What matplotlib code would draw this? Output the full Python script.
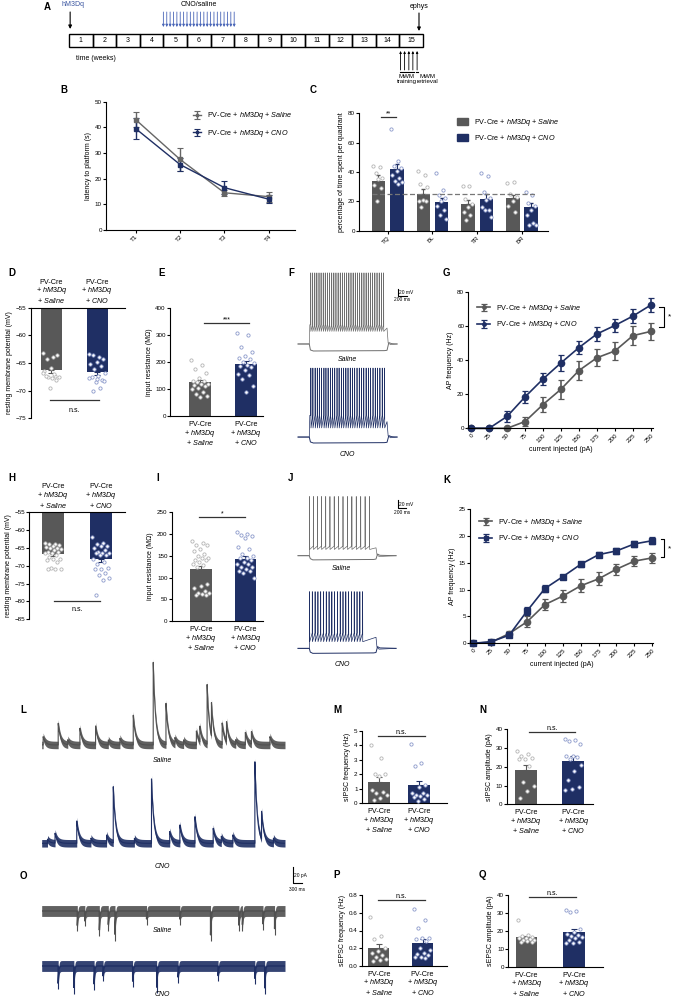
import numpy as np
import matplotlib
matplotlib.use("Agg")
import matplotlib.pyplot as plt
from matplotlib.patches import Rectangle, Patch

plt.rcParams['font.family'] = ['Liberation Sans', 'DejaVu Sans']
plt.rcParams['mathtext.fontset'] = 'custom'
plt.rcParams['mathtext.rm'] = 'Liberation Sans'
plt.rcParams['mathtext.it'] = 'Liberation Sans:italic'
plt.rcParams['font.size'] = 5
plt.rcParams['axes.linewidth'] = 0.8
plt.rcParams['path.simplify'] = False

GREY = '#585858'
NAVY = '#1f2f64'
GREY_PT = '#b4b4b4'
NAVY_PT = '#8c9acb'
W, H = 674, 1000

SAL_LABEL = r'PV-Cre + $\mathit{hM3Dq}$ + $\mathit{Saline}$'
CNO_LABEL = r'PV-Cre + $\mathit{hM3Dq}$ + $\mathit{CNO}$'

# ---- A: timeline
weeks = list(range(1, 16))
cno_days = [28, 29, 30, 31, 32, 33, 34, 35, 36, 37, 38, 39, 40, 41, 42, 43, 44, 45, 46, 47, 48, 49]
mwm_training = [14.05, 14.22, 14.4, 14.57]
mwm_retrieval = [14.75]
ephys_week = 14.83

# ---- B: water maze latency
trials = ['T1', 'T2', 'T3', 'T4']
b_sal = [43, 27.5, 14.5, 13]
b_sal_err = [3, 4.5, 1.2, 2]
b_cno = [39.5, 25.5, 16.5, 12]
b_cno_err = [4, 2.5, 2.5, 1.5]

# ---- C: probe trial
quadrants = ['TQ', 'BL', 'TR', 'BR']
c_sal_mean = [34, 25, 18, 22]
c_sal_err = [4, 3.5, 3.2, 2.5]
c_cno_mean = [42, 19.5, 21.5, 16]
c_cno_err = [3.5, 3, 3.5, 3]
c_sal_pts = [[44, 43.5, 39.5, 36, 35.5, 31, 29, 20],
             [40.5, 38, 31.5, 29.5, 21, 20.5, 20, 16],
             [30.5, 30.5, 21.5, 18, 16, 13, 11, 7],
             [32.5, 33.5, 25, 23, 20, 17, 13]]
c_cno_pts = [[69.5, 47.5, 44, 42.5, 41, 38, 36, 34, 33, 32],
             [39.5, 27.5, 24, 22, 20, 17, 14, 11, 8],
             [39.5, 37.5, 26.5, 22, 21, 16, 14, 14, 9],
             [26.5, 24.5, 19, 17, 14, 11, 5, 4, 4]]

# ---- D/E (first cohort) and H/I (second cohort)
d_sal = [-63.2, -64.0, -64.3, -63.5, -65.9, -66.4, -67.3, -67.6, -67.5, -67.8, -67.4, -68.1, -69.5, -66.8, -67.0]
d_cno = [-63.3, -64.0, -63.5, -64.3, -64.8, -65.2, -65.5, -66.1, -66.8, -67.3, -67.6, -68.0, -68.5, -67.8,
         -69.5, -70.0, -68.2, -67.9]
d_mean = [-66.3, -66.6]
d_sem = [0.55, 0.5]
e_sal = [205, 190, 175, 160, 140, 130, 128, 125, 120, 118, 115, 110, 105, 100, 90, 80, 75, 70]
e_cno = [308, 300, 255, 235, 220, 215, 210, 200, 195, 190, 185, 180, 170, 155, 150, 135, 110, 90]
e_mean = [125, 192]
e_sem = [8, 12]
h_sal = [-63.5, -63.8, -64.0, -64.3, -64.5, -64.8, -65.0, -65.0, -65.3, -65.5, -66.0, -66.0, -66.3, -66.5,
         -67.0, -67.5, -68.0, -68.0, -68.3, -69.0, -70.5, -70.8, -71.0, -71.0]
h_cno = [-62.0, -63.5, -64.0, -64.5, -64.5, -65.0, -65.5, -66.0, -66.3, -66.5, -66.5, -67.0, -67.0, -68.0,
         -69.0, -69.5, -70.5, -70.8, -71.0, -72.0, -72.5, -73.5, -74.0, -78.3]
h_mean = [-66.8, -68.2]
h_sem = [0.5, 0.8]
i_sal = [185, 180, 175, 175, 165, 160, 155, 150, 145, 145, 140, 140, 135, 130, 128, 125, 85, 80, 75, 70,
         65, 65, 62, 60, 60]
i_cno = [205, 200, 198, 195, 190, 170, 165, 155, 150, 145, 145, 140, 135, 130, 130, 125, 125, 120, 115,
         115, 110, 100]
i_mean = [119, 142]
i_sem = [8, 7]

# ---- G/K: input-output curves
current = [0, 25, 50, 75, 100, 125, 150, 175, 200, 225, 250]
g_sal = [0, 0, 0, 4, 14, 23, 34, 41.5, 45.5, 54.5, 57]
g_sal_err = [0, 0, 0, 2.5, 4.5, 5.5, 5.5, 5, 5.5, 5.5, 5]
g_cno = [0, 0, 7, 18.5, 29, 38.5, 47.5, 55.5, 60.5, 66, 72.5]
g_cno_err = [0, 0, 3, 3.5, 3.5, 4.5, 4, 4, 4, 4, 4]
k_sal = [0, 0.2, 1.8, 4, 7.2, 8.8, 10.7, 12, 13.8, 15.3, 15.9]
k_sal_err = [0, 0.1, 0.5, 1, 1, 1.2, 1.2, 1.2, 1, 1, 1]
k_cno = [0, 0.3, 1.5, 6, 10.2, 12.4, 14.7, 16.5, 17.2, 18.5, 19.1]
k_cno_err = [0, 0.1, 0.3, 0.8, 0.6, 0.4, 0.5, 0.5, 0.6, 0.6, 0.7]

# ---- F/J: spike times (ms) during the current step
f_sal_spikes = [282, 325, 372, 418, 466, 512, 560, 605, 652, 700, 748, 795, 842, 890, 938, 985, 1033, 1080,
                1128, 1176, 1224, 1272, 1320, 1368, 1416, 1464, 1512, 1560, 1608, 1656, 1705, 1754, 1803,
                1852, 1900]
f_cno_spikes = [285, 330, 380, 428, 474, 522, 575, 620, 668, 720, 768, 815, 866, 912, 962, 1010, 1062, 1110,
                1160, 1210, 1258, 1310, 1360, 1410, 1460, 1512, 1562, 1612, 1665, 1715, 1765, 1818, 1870, 1922]
j_sal_spikes = [300, 400, 505, 612, 720, 830, 942, 1055, 1170, 1285, 1400, 1515, 1630, 1745, 1860]
j_cno_spikes = [300, 372, 445, 518, 590, 662, 735, 808, 880, 952, 1025, 1098, 1170, 1243, 1316, 1390, 1462,
                1535, 1608, 1680]

# ---- L/O: synaptic events (time s, amplitude pA)
l_sal_events = [(0.05, 10), (0.57, 26), (0.9, 6), (1.32, 20), (1.86, 23), (2.3, 6), (2.7, 8), (3.16, 36),
                (3.85, 100), (4.29, 50), (4.6, 8), (4.9, 6), (5.34, 17), (5.46, 19), (5.71, 72), (5.86, 40),
                (6.23, 26), (6.38, 24), (6.7, 6), (7.03, 15), (7.24, 15), (7.88, 10)]
l_cno_events = [(0.2, 5), (0.46, 12), (1.21, 27), (1.7, 6), (2.24, 10), (2.47, 68), (3.2, 6), (3.79, 78),
                (4.42, 14), (4.77, 22), (5.29, 32), (5.92, 18), (6.2, 8), (6.6, 10), (7.36, 98), (7.59, 33),
                (8.0, 6)]
o_sal_events = [(1.23, 18), (1.49, 12), (1.99, 24), (2.30, 17), (2.53, 29), (3.62, 10), (4.77, 10),
                (5.83, 29), (6.81, 17), (6.93, 17), (7.64, 16), (8.04, 22)]
o_cno_events = [(0.57, 21), (1.11, 27), (1.81, 22), (2.12, 12), (3.14, 19), (3.97, 26), (4.71, 14),
                (6.09, 12), (7.36, 15), (7.7, 27)]

# ---- M/N/P/Q
m_sal = [4.0, 3.15, 2.05, 2.0, 1.9, 0.9, 0.75, 0.7, 0.55, 0.35, 0.2]
m_cno = [4.1, 2.8, 2.55, 1.3, 1.1, 0.7, 0.7, 0.6, 0.6, 0.5, 0.45, 0.3, 0.15]
m_mean = [1.45, 1.25]
m_sem = [0.38, 0.3]
n_sal = [28.5, 27, 26, 24.5, 24, 24, 20.5, 12, 9.5, 7, 3.5]
n_cno = [35, 34.5, 34, 32, 26, 25.5, 25, 24, 21, 17.5, 13, 9, 8, 7.5]
n_mean = [18.3, 23]
n_sem = [2.8, 2.8]
p_sal = [0.55, 0.34, 0.3, 0.2, 0.17, 0.15, 0.12, 0.1, 0.08, 0.06, 0.05]
p_cno = [0.64, 0.52, 0.43, 0.32, 0.31, 0.3, 0.28, 0.2, 0.18, 0.15, 0.13, 0.12, 0.1, 0.1, 0.09]
p_mean = [0.2, 0.26]
p_sem = [0.045, 0.045]
q_sal = [26, 17.5, 17, 16.5, 16, 16, 15.5, 15, 15, 14.5, 14, 14]
q_cno = [31.5, 31, 30.5, 21, 19.5, 18, 17.5, 17, 16.5, 16, 15, 14, 13, 13]
q_mean = [16.3, 19.5]
q_sem = [0.8, 1.7]

fig = plt.figure(figsize=(W / 100, H / 100), dpi=100)


def px_ax(left, top, right, bottom):
    return fig.add_axes([left / W, 1 - bottom / H, (right - left) / W, (bottom - top) / H])


def letter(x, y, s):
    fig.text(x / W, 1 - y / H, s, fontsize=7, fontweight='bold', ha='left', va='center')


def clean(ax, yticks, ylabel):
    ax.spines['top'].set_visible(False)
    ax.spines['right'].set_visible(False)
    ax.set_yticks(yticks)
    ax.tick_params(length=2, width=0.8, labelsize=4.5, pad=1)
    ax.set_ylabel(ylabel, fontsize=5, labelpad=2)


def spread(n, w):
    k = np.arange(n)
    return ((k * 0.618) % 1 - 0.5) * w


def dots(ax, x, vals, w, edge):
    ax.scatter(x + spread(len(vals), w), vals, s=5.5, facecolor='white', edgecolor=edge,
               linewidths=0.6, zorder=4, clip_on=False)


def group_text(ax, x, cond, above=False):
    tr = ax.get_xaxis_transform()
    txt = 'PV-Cre\n+ $\\mathit{hM3Dq}$\n+ $\\mathit{' + cond + '}$'
    if above:
        ax.annotate(txt, xy=(x, 1), xycoords=tr, xytext=(0, 2), textcoords='offset points',
                    ha='center', va='bottom', fontsize=5.2, linespacing=0.95)
    else:
        ax.annotate(txt, xy=(x, 0), xycoords=tr, xytext=(0, -3.5), textcoords='offset points',
                    ha='center', va='top', fontsize=5.2, linespacing=0.95)


def sig(ax, x0, x1, y, text, below=False, dy=0):
    ax.plot([x0, x1], [y, y], color='#333333', lw=0.9, clip_on=False)
    ax.text((x0 + x1) / 2, y + dy, text, ha='center', va='top' if below else 'bottom', fontsize=5)


def bar_pair(ax, means, sems, sal, cno, width, top=None):
    for i, (m, s, p, c, e) in enumerate(zip(means, sems, [sal, cno], [GREY, NAVY], [GREY_PT, NAVY_PT])):
        if top is None:
            ax.bar(i, m, width, color=c, zorder=2)
            ax.errorbar(i, m, yerr=[[0], [s]], color=c, capsize=2, lw=0.8, capthick=0.8, zorder=3)
        else:
            ax.bar(i, m - top, width, bottom=top, color=c, zorder=2)
            ax.errorbar(i, m, yerr=[[s], [0]], color=c, capsize=2, lw=0.8, capthick=0.8, zorder=3)
        dots(ax, i, p, width * 0.8, e)
    ax.set_xticks([])


def up_panel(rect, xlim, ylim, yticks, ylabel, means, sems, sal, cno, width, sig_args):
    ax = px_ax(*rect)
    bar_pair(ax, means, sems, sal, cno, width)
    ax.set_xlim(*xlim)
    ax.set_ylim(*ylim)
    clean(ax, yticks, ylabel)
    group_text(ax, 0, 'Saline')
    group_text(ax, 1, 'CNO')
    sig(ax, *sig_args)
    return ax


def down_panel(rect, xlim, ylim, yticks, means, sems, sal, cno, width, sig_args):
    ax = px_ax(*rect)
    bar_pair(ax, means, sems, sal, cno, width, top=ylim[1])
    ax.set_xlim(*xlim)
    ax.set_ylim(*ylim)
    clean(ax, yticks, 'resting membrane potential (mV)')
    ax.spines['top'].set_visible(True)
    ax.spines['bottom'].set_visible(False)
    group_text(ax, 0, 'Saline', above=True)
    group_text(ax, 1, 'CNO', above=True)
    x0, x1, y = sig_args
    ax.plot([x0, x1], [y, y], color='#333333', lw=0.9)
    ax.text((x0 + x1) / 2, y - 1.2, 'n.s.', ha='center', va='top', fontsize=5)
    return ax


def spike_sweep(spikes, t_on, t_off, t_end, rest, trough, ramp, peak):
    t = [0, t_on, t_on + 12]
    v = [rest, rest, ramp]
    for s in spikes:
        t += [s - 2, s, s + 3]
        v += [ramp, peak, trough]
    t += [t_off, t_off + 25, t_off + 80, t_end]
    v += [(trough + ramp) / 2, rest + 3, rest - 2, rest]
    return t, v


def hyp_sweep(t_on, t_off, t_end, rest, hyp):
    t = [0, t_on, t_on + 25, t_on + 90, t_off - 60, t_off, t_off + 40, t_off + 100, t_end]
    v = [rest, rest, hyp + 3, hyp, hyp + 1, hyp + 2, rest + 4, rest + 1, rest]
    return t, v


def ap_trace(rect, xlim, ylim, spikes, t_on, t_off, t_end, rest, trough, ramp, peak, hyp, color, label, label_y):
    ax = px_ax(*rect)
    ts, vs = spike_sweep(spikes, t_on, t_off, t_end, rest, trough, ramp, peak)
    th, vh = hyp_sweep(t_on, t_off, t_end, rest, hyp)
    ax.plot(ts, vs, color=color, lw=0.5)
    ax.plot(th, vh, color=color, lw=0.7)
    ax.set_xlim(*xlim)
    ax.set_ylim(*ylim)
    ax.axis('off')
    ax.text((t_on + t_off) / 2 - 20, label_y, label, ha='center', va='center', fontsize=5, style='italic')
    return ax


def scale_bar(ax, x, y, dx, dy, t1, t2, fs=3.5):
    ax.plot([x, x, x + dx], [y + dy, y, y], color='black', lw=0.8, clip_on=False)
    ax.text(x + dx * 0.12, y + dy * 0.5, t1, fontsize=fs, va='center', ha='left')
    ax.text(x + dx * 0.5, y - dy * 0.2, t2, fontsize=fs, va='top', ha='center')


def psc_trace(rect, ylim, events, tau, sign, noise, color, label, label_y, lw=0.8, ticks=False):
    ax = px_ax(*rect)
    t = np.linspace(0, 8.4, 8000)
    y = np.zeros_like(t)
    for t0, a in events:
        m = t >= t0
        y[m] += sign * a * np.exp(-(t[m] - t0) / tau)
    ax.fill_between(t, y - noise, y + noise, color=color, lw=0, alpha=0.9)
    ax.plot(t, y, color=color, lw=lw)
    if ticks:
        # fast events: draw each as a crisp stroke from the band to its tip
        ev_t = [e[0] for e in events]
        ev_a = [sign * (e[1] + noise) for e in events]
        ax.vlines(ev_t, 0, ev_a, colors=color, lw=0.8)
    ax.set_xlim(0, 8.4)
    ax.set_ylim(*ylim)
    ax.axis('off')
    ax.text(4.18, label_y, label, ha='center', va='center', fontsize=5, style='italic')
    return ax


# ================= A
ax = px_ax(60, 0, 440, 95)
ax.set_xlim(-0.38, 15.72)
ax.set_ylim(95, 0)
ax.axis('off')
arrow = dict(arrowstyle='-|>', lw=0.8, color='black', mutation_scale=5, shrinkA=0, shrinkB=0)
for w in weeks:
    ax.add_patch(Rectangle((w - 1, 34), 1, 13, fill=False, lw=1, ec='black'))
    ax.text(w - 0.5, 40.5, str(w), ha='center', va='center', fontsize=5)
ax.annotate('', xy=(0.05, 29), xytext=(0.05, 12), arrowprops=arrow)
ax.text(0.17, 5, 'hM3Dq', color='#3a55a0', ha='center', va='center', fontsize=5)
for d in cno_days:
    ax.annotate('', xy=(d / 7, 27), xytext=(d / 7, 12),
                arrowprops=dict(arrowstyle='-|>', lw=0.6, color='#4a66b8', mutation_scale=3.5,
                                shrinkA=0, shrinkB=0))
ax.text(5.5, 5, 'CNO/saline', ha='center', va='center', fontsize=5)
ax.annotate('', xy=(ephys_week, 31), xytext=(ephys_week, 13), arrowprops=arrow)
ax.text(ephys_week, 7, 'ephys', ha='center', va='center', fontsize=5)
ax.text(0.3, 58, 'time (weeks)', ha='left', va='center', fontsize=5)
for wk in mwm_training + mwm_retrieval:
    ax.annotate('', xy=(wk, 51), xytext=(wk, 70),
                arrowprops=dict(arrowstyle='-|>', lw=0.6, color='black', mutation_scale=3,
                                shrinkA=0, shrinkB=0))
ax.plot([mwm_training[0] - 0.03, mwm_training[-1] + 0.03], [71.5, 71.5], color='black', lw=0.8)
ax.plot([mwm_retrieval[0] - 0.03, mwm_retrieval[0] + 0.03], [71.5, 71.5], color='black', lw=0.8)
ax.text(14.3, 74, 'MWM\ntraining', ha='center', va='top', fontsize=4.4, linespacing=1.1)
ax.text(15.2, 74, 'MWM\nretrieval', ha='center', va='top', fontsize=4.4, linespacing=1.1)
letter(44, 7, 'A')

# ================= B
ax = px_ax(106, 101.7, 295, 230)
x = np.arange(len(trials))
ax.errorbar(x, b_sal, yerr=b_sal_err, color='#666666', marker='s', ms=3, lw=1, capsize=2, capthick=0.8,
            label=SAL_LABEL)
ax.errorbar(x, b_cno, yerr=b_cno_err, color=NAVY, marker='s', ms=3, lw=1, capsize=2, capthick=0.8,
            label=CNO_LABEL)
ax.set_xlim(-0.67, 3.59)
ax.set_ylim(0, 50)
clean(ax, [0, 10, 20, 30, 40, 50], 'latency to platform (s)')
ax.set_xticks(x)
ax.set_xticklabels(trials, rotation=45, ha='right', rotation_mode='anchor')
ax.legend(loc='upper left', bbox_to_anchor=(0.44, 0.96), frameon=False, fontsize=5.2, handlelength=1.2,
          markerscale=0.7, labelspacing=0.9, borderpad=0)
letter(60, 90, 'B')

# ================= C
ax = px_ax(359, 113.3, 548, 230.7)
g = np.arange(len(quadrants))
ax.bar(g - 0.205, c_sal_mean, 0.3, color=GREY, zorder=2, label=SAL_LABEL)
ax.bar(g + 0.205, c_cno_mean, 0.3, color=NAVY, zorder=2, label=CNO_LABEL)
ax.errorbar(g - 0.205, c_sal_mean, yerr=[np.zeros(4), c_sal_err], fmt='none', ecolor=GREY, capsize=1.5,
            lw=0.8, zorder=3)
ax.errorbar(g + 0.205, c_cno_mean, yerr=[np.zeros(4), c_cno_err], fmt='none', ecolor=NAVY, capsize=1.5,
            lw=0.8, zorder=3)
for i in range(4):
    dots(ax, i - 0.205, c_sal_pts[i], 0.24, GREY_PT)
    dots(ax, i + 0.205, c_cno_pts[i], 0.24, NAVY_PT)
ax.hlines(25, -0.36, 3.33, colors='#777777', linestyles=(0, (4, 2)), lw=0.9, zorder=5)
ax.set_xlim(-0.64, 3.58)
ax.set_ylim(0, 80)
clean(ax, [0, 20, 40, 60, 80], 'percentage of time spent per quadrant')
ax.set_xticks(g)
ax.set_xticklabels(quadrants, rotation=45, ha='right', rotation_mode='anchor')
sig(ax, -0.15, 0.18, 77.5, '**', dy=0)
ax.legend(handles=[Patch(color=GREY, label=SAL_LABEL), Patch(color=NAVY, label=CNO_LABEL)],
          loc='upper left', bbox_to_anchor=(0.5, 1.0), frameon=False, fontsize=5.2, handlelength=1.5,
          handleheight=1.3, labelspacing=0.7, borderpad=0)
letter(310, 90, 'C')

# ================= D / E
down_panel((30.7, 307.7, 125, 418.3), (-0.45, 1.61), (-75, -55), [-75, -70, -65, -60, -55],
           d_mean, d_sem, d_sal, d_cno, 0.46, (-0.03, 1.04, -71.7))
letter(8, 273, 'D')
up_panel((170, 307.7, 263, 416), (-0.65, 1.37), (0, 400), [0, 100, 200, 300, 400],
         'input resistance (M\u03a9)', e_mean, e_sem, e_sal, e_cno, 0.47, (0.09, 1.07, 342, '***'))
letter(158, 273, 'E')

# ================= F
ax = ap_trace((290, 268, 410, 356), (-178, 2486), (-104.3, 147), f_sal_spikes, 250, 1976, 2200,
              -70, -34, -15, 133, -90, '#6e6e6e', 'Saline', -113)
scale_bar(ax, 2220, 67, 200, 20, '20 mV', '200 ms')
ap_trace((290, 360, 410, 450), (-178, 2486), (-107, 150), f_cno_spikes, 250, 1976, 2200,
         -70, -44, -8, 127, -87, NAVY, 'CNO', -120)
letter(288, 273, 'F')

# ================= G
ax = px_ax(468.3, 292.3, 653, 428.3)
ax.errorbar(current, g_sal, yerr=g_sal_err, color=GREY, marker='o', ms=4.5, lw=1.2, capsize=2,
            capthick=0.9, label=SAL_LABEL, clip_on=False)
ax.errorbar(current, g_cno, yerr=g_cno_err, color=NAVY, marker='o', ms=4.5, lw=1.2, capsize=2,
            capthick=0.9, label=CNO_LABEL, clip_on=False)
ax.set_xlim(-4, 253)
ax.set_ylim(0, 80)
clean(ax, [0, 20, 40, 60, 80], 'AP frequency (Hz)')
ax.set_xticks(current)
ax.set_xticklabels(current, rotation=45, ha='right', rotation_mode='anchor')
ax.set_xlabel('current injected (pA)', fontsize=5, labelpad=2)
ax.plot([261, 268, 268, 261], [71.5, 71.5, 59.8, 59.8], color='black', lw=0.8, clip_on=False)
ax.text(276, 65.6, '*', fontsize=6, ha='center', va='center')
ax.legend(loc='upper left', bbox_to_anchor=(0.03, 0.95), frameon=False, fontsize=5.2, handlelength=1.8,
          markerscale=0.55, labelspacing=0.8, borderpad=0)
letter(443, 273, 'G')

# ================= H / I
down_panel((29.3, 512.3, 125, 619.3), (-0.5, 1.5), (-85, -55), [-85, -80, -75, -70, -65, -60, -55],
           h_mean, h_sem, h_sal, h_cno, 0.45, (0.02, 0.98, -80))
letter(8, 478, 'H')
up_panel((171.7, 512.3, 263.3, 621), (-0.65, 1.4), (0, 250), [0, 50, 100, 150, 200, 250],
         'input resistance (M\u03a9)', i_mean, i_sem, i_sal, i_cno, 0.485, (-0.03, 0.99, 238.5, '*'))
letter(156, 478, 'I')

# ================= J
ax = ap_trace((290, 490, 410, 565), (-208, 2912), (-92.3, 87.7), j_sal_spikes, 294, 2028, 2550,
              -70, -55, -47, 72, -80, '#6e6e6e', 'Saline', -99.5)
scale_bar(ax, 2608, 43.8, 200, 20, '20 mV', '200 ms')
ap_trace((290, 585, 410, 660), (-208, 2912), (-98, 82), j_cno_spikes, 294, 2028, 2550,
         -70, -54, -33, 66, -82, NAVY, 'CNO', -110)
letter(288, 478, 'J')

# ================= K
ax = px_ax(470, 509, 653, 643.3)
ax.errorbar(current, k_sal, yerr=k_sal_err, color=GREY, marker='o', ms=4.5, lw=1.2, capsize=2,
            capthick=0.9, label=SAL_LABEL, clip_on=False)
ax.errorbar(current, k_cno, yerr=k_cno_err, color=NAVY, marker='s', ms=4.3, lw=1.2, capsize=2,
            capthick=0.9, label=CNO_LABEL, clip_on=False)
ax.set_xlim(-4.6, 251)
ax.set_ylim(0, 25)
clean(ax, [0, 5, 10, 15, 20, 25], 'AP frequency (Hz)')
ax.set_xticks(current)
ax.set_xticklabels(current, rotation=45, ha='right', rotation_mode='anchor')
ax.set_xlabel('current injected (pA)', fontsize=5, labelpad=2)
ax.plot([262.5, 267, 267, 262.5], [19.4, 19.4, 16.0, 16.0], color='black', lw=0.8, clip_on=False)
ax.text(274, 17.6, '*', fontsize=6, ha='center', va='center')
ax.legend(loc='upper left', bbox_to_anchor=(0.03, 0.97), frameon=False, fontsize=5.2, handlelength=1.8,
          markerscale=0.55, labelspacing=0.8, borderpad=0)
letter(443, 480, 'K')

# ================= L
psc_trace((41.7, 650, 285, 760), (-18, 113.8), l_sal_events, 0.08, 1, 4.5, '#505050', 'Saline', -18.8)
ax = psc_trace((41.7, 750, 285, 860), (-20, 111.7), l_cno_events, 0.08, 1, 4.5, NAVY, 'CNO', -27.2)
scale_bar(ax, 8.67, -48, 0.3, 20, '20 pA', '300 ms')
letter(20, 710, 'L')

# ================= M / N
up_panel((361.7, 731, 446.7, 803.3), (-0.44, 1.69), (0, 5), [0, 1, 2, 3, 4, 5],
         'sIPSC frequency (Hz)', m_mean, m_sem, m_sal, m_cno, 0.54, (-0.02, 1.15, 4.67, 'n.s.'))
letter(333, 710, 'M')
up_panel((506.7, 729.3, 593.3, 804.3), (-0.4, 1.42), (0, 40), [0, 10, 20, 30, 40],
         'sIPSC amplitude (pA)', n_mean, n_sem, n_sal, n_cno, 0.46, (0.07, 1.04, 38.4, 'n.s.'))
letter(479, 710, 'N')

# ================= O
psc_trace((41.7, 890, 285, 945), (-40.7, 25.1), o_sal_events, 0.02, -1, 6.5, '#505050', 'Saline', -23.6,
          lw=1.0, ticks=True)
psc_trace((41.7, 945, 285, 1000), (-40.7, 25.1), o_cno_events, 0.02, -1, 6.5, NAVY, 'CNO', -34.7,
          lw=1.0, ticks=True)
letter(20, 876, 'O')

# ================= P / Q
ax = up_panel((361.7, 895.3, 446.7, 965.7), (-0.39, 1.55), (0, 0.8), [0, 0.2, 0.4, 0.6, 0.8],
              'sEPSC frequency (Hz)', p_mean, p_sem, p_sal, p_cno, 0.48, (-0.01, 1.06, 0.747, 'n.s.'))
ax.set_yticklabels(['0.0', '0.2', '0.4', '0.6', '0.8'])
letter(333, 875, 'P')
up_panel((508.3, 895, 602.7, 966.7), (-0.38, 1.6), (0, 40), [0, 10, 20, 30, 40],
         'sEPSC amplitude (pA)', q_mean, q_sem, q_sal, q_cno, 0.45, (0.06, 1.04, 38.7, 'n.s.'))
letter(479, 875, 'Q')

fig.savefig('out.png', dpi=100)
